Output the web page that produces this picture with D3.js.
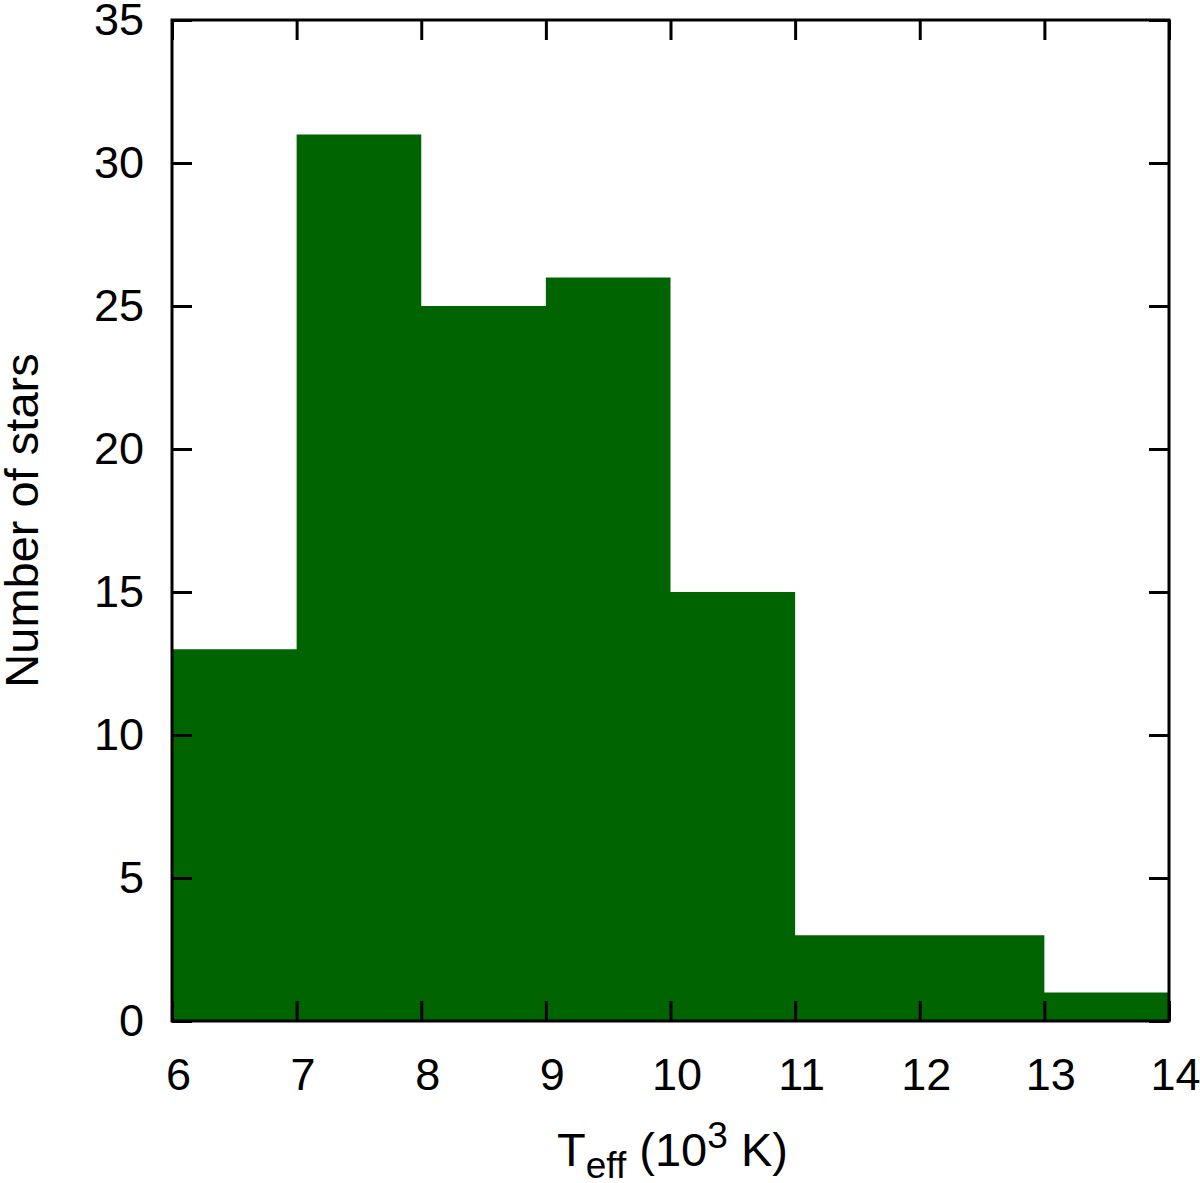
<!DOCTYPE html>
<html>
<meta charset="utf-8">
<style>
body { margin: 0; background: #fff; }
text { font-family: "Liberation Sans", Arial, sans-serif; fill: #000; }
</style>
<body>
<script src="https://d3js.org/d3.v7.min.js"></script>
<script>
// histogram bins (10^3 K) and counts
var binEdges = [6, 7, 8, 9, 10, 11, 12, 13, 14];
var counts = [13, 31, 25, 26, 15, 3, 3, 1];
var xTicks = [6, 7, 8, 9, 10, 11, 12, 13, 14];
var yTicks = [0, 5, 10, 15, 20, 25, 30, 35];

var width = 1200, height = 1183;
var margin = {left: 172, right: 31, top: 20, bottom: 162};

var svg = d3.select("body").append("svg")
    .attr("width", width)
    .attr("height", height);

var x = d3.scaleLinear().domain([6, 14]).range([margin.left, width - margin.right]);
var y = d3.scaleLinear().domain([0, 35]).range([height - margin.bottom, margin.top]);

var bins = counts.map(function(c, i) { return {x0: binEdges[i], x1: binEdges[i + 1], n: c}; });

// filled step histogram as one area
var pts = [];
bins.forEach(function(b) { pts.push([b.x0, b.n]); pts.push([b.x1, b.n]); });
var area = d3.area()
    .x(function(d) { return x(d[0]); })
    .y0(y(0))
    .y1(function(d) { return y(d[1]); });

svg.append("path")
    .datum(pts)
    .attr("d", area)
    .style("fill", "#006400");

var tickLen = 20;
var fontSize = 45;

// inward ticks on all four sides
var xa = svg.append("g").attr("transform", "translate(0," + y(0) + ")")
    .call(d3.axisBottom(x).tickValues(xTicks).tickSize(-tickLen).tickPadding(37).tickFormat(d3.format("d")));
var xt = svg.append("g").attr("transform", "translate(0," + y(35) + ")")
    .call(d3.axisTop(x).tickValues(xTicks).tickSize(-tickLen).tickFormat(""));
var yl = svg.append("g").attr("transform", "translate(" + x(6) + ",0)")
    .call(d3.axisLeft(y).tickValues(yTicks).tickSize(-tickLen).tickPadding(28).tickFormat(d3.format("d")));
var yr = svg.append("g").attr("transform", "translate(" + x(14) + ",0)")
    .call(d3.axisRight(y).tickValues(yTicks).tickSize(-tickLen).tickFormat(""));

xa.selectAll(".tick text").attr("dx", 6);

[xa, xt, yl, yr].forEach(function(g) {
  g.select(".domain").remove();
  g.selectAll(".tick line").style("stroke", "#000").style("stroke-width", 3);
  g.selectAll(".tick text").style("font-size", fontSize + "px").style("font-family", "Liberation Sans, Arial, sans-serif").attr("fill", "#000");
});

// frame
svg.append("rect")
    .attr("x", x(6)).attr("y", y(35))
    .attr("width", x(14) - x(6)).attr("height", y(0) - y(35))
    .style("fill", "none").style("stroke", "#000").style("stroke-width", 3);

// axis titles
var xl = svg.append("text")
    .attr("x", (x(6) + x(14)) / 2 + 2)
    .attr("y", 1166)
    .attr("text-anchor", "middle")
    .style("font-size", "47px");
xl.append("tspan").text("T");
xl.append("tspan").attr("dy", 12).style("font-size", "37px").text("eff");
xl.append("tspan").attr("dy", -12).text(" (10");
xl.append("tspan").attr("dy", -18).style("font-size", "37px").text("3");
xl.append("tspan").attr("dy", 18).text(" K)");

svg.append("text")
    .attr("transform", "translate(38," + ((y(0) + y(35)) / 2) + ") rotate(-90)")
    .attr("text-anchor", "middle")
    .style("font-size", "47px")
    .text("Number of stars");
</script>
</body>
</html>
